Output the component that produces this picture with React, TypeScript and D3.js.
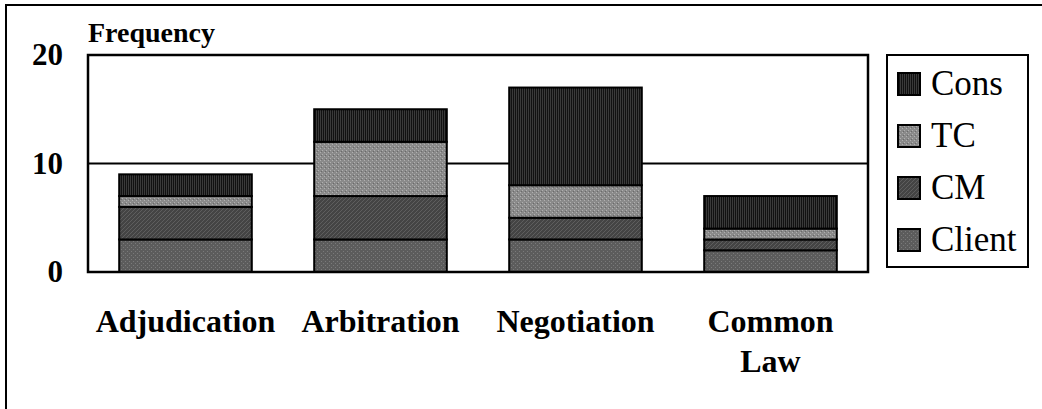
import { useEffect, useRef } from 'react';
import * as d3 from 'd3';

const categories = ['Adjudication', 'Arbitration', 'Negotiation', 'Common Law'];
const seriesNames = ['Client', 'CM', 'TC', 'Cons'];
const clientValues = [3, 3, 3, 2];
const cmValues = [3, 4, 2, 1];
const tcValues = [1, 5, 3, 1];
const consValues = [2, 3, 9, 3];
const yTicks = [0, 10, 20];
const legendOrder = ['Cons', 'TC', 'CM', 'Client'];

const W = 1042;
const H = 409;
const FONT = "'Liberation Serif', 'Times New Roman', Times, 'DejaVu Serif', serif";

export default function App() {
  const svgRef = useRef<SVGSVGElement>(null);

  useEffect(() => {
    if (!svgRef.current) return;
    const svg = d3.select(svgRef.current);
    svg.selectAll('*').remove();

    // patterns to mimic the dithered fills
    const defs = svg.append('defs');
    const pat = (id: string, bg: string, draw: (p: any) => void) => {
      const p = defs.append('pattern')
        .attr('id', id)
        .attr('patternUnits', 'userSpaceOnUse')
        .attr('width', 4)
        .attr('height', 4);
      p.append('rect').attr('width', 4).attr('height', 4).attr('fill', bg);
      draw(p);
    };
    pat('p-cons', '#111', (p) => {
      p.append('rect').attr('x', 0).attr('y', 0).attr('width', 1).attr('height', 4).attr('fill', '#3a3a3a');
      p.append('rect').attr('x', 2).attr('y', 0).attr('width', 1).attr('height', 4).attr('fill', '#3a3a3a');
    });
    pat('p-tc', '#8a8a8a', (p) => {
      p.append('rect').attr('x', 0).attr('y', 0).attr('width', 1).attr('height', 1).attr('fill', '#b0b0b0');
      p.append('rect').attr('x', 2).attr('y', 2).attr('width', 1).attr('height', 1).attr('fill', '#b0b0b0');
      p.append('rect').attr('x', 1).attr('y', 3).attr('width', 1).attr('height', 1).attr('fill', '#6a6a6a');
    });
    pat('p-cm', '#444', (p) => {
      p.append('path').attr('d', 'M0,4 L4,0').attr('stroke', '#5e5e5e').attr('stroke-width', 1);
    });
    pat('p-client', '#5c5c5c', (p) => {
      p.append('rect').attr('x', 1).attr('y', 1).attr('width', 1).attr('height', 1).attr('fill', '#7a7a7a');
      p.append('rect').attr('x', 3).attr('y', 3).attr('width', 1).attr('height', 1).attr('fill', '#7a7a7a');
    });
    const fills: Record<string, string> = {
      Client: 'url(#p-client)',
      CM: 'url(#p-cm)',
      TC: 'url(#p-tc)',
      Cons: 'url(#p-cons)',
    };

    // outer frame (runs off the right and bottom edges)
    svg.append('path')
      .attr('d', `M6,${H + 5} L6,5 L${W + 5},5`)
      .attr('fill', 'none')
      .attr('stroke', '#000')
      .attr('stroke-width', 2);

    const left = 88, right = 868, top = 55, bottom = 272;

    const x = d3.scaleBand<string>()
      .domain(categories)
      .range([left, right])
      .paddingInner(0.32)
      .paddingOuter(0.16);

    const y = d3.scaleLinear().domain([0, 20]).range([bottom, top]);

    const table = categories.map((c, i) => ({
      category: c,
      Client: clientValues[i],
      CM: cmValues[i],
      TC: tcValues[i],
      Cons: consValues[i],
    }));
    const stacked = d3.stack<any>().keys(seriesNames)(table);

    const g = svg.append('g');

    // gridline at 10
    g.append('line')
      .attr('x1', left).attr('x2', right)
      .attr('y1', y(10)).attr('y2', y(10))
      .attr('stroke', '#000').attr('stroke-width', 2);

    // bars
    g.selectAll('g.layer')
      .data(stacked)
      .join('g')
      .attr('class', 'layer')
      .attr('fill', (d: any) => fills[d.key])
      .selectAll('rect')
      .data((d: any) => d)
      .join('rect')
      .attr('x', (d: any) => x(d.data.category)!)
      .attr('width', x.bandwidth())
      .attr('y', (d: any) => y(d[1]))
      .attr('height', (d: any) => y(d[0]) - y(d[1]))
      .attr('stroke', '#000')
      .attr('stroke-width', 2);

    // plot frame
    g.append('rect')
      .attr('x', left).attr('y', top)
      .attr('width', right - left).attr('height', bottom - top)
      .attr('fill', 'none')
      .attr('stroke', '#000')
      .attr('stroke-width', 2.5);

    // y tick labels
    g.selectAll('text.ytick')
      .data(yTicks)
      .join('text')
      .attr('class', 'ytick')
      .attr('x', 63)
      .attr('y', (d) => y(d) + 10)
      .attr('text-anchor', 'end')
      .style('font-family', FONT)
      .attr('font-weight', 'bold')
      .attr('font-size', 31)
      .text((d) => d);

    // axis title
    g.append('text')
      .attr('x', 88)
      .attr('y', 42)
      .style('font-family', FONT)
      .attr('font-weight', 'bold')
      .attr('font-size', 28)
      .text('Frequency');

    // category labels
    const catLabels = g.selectAll('text.cat')
      .data(categories)
      .join('text')
      .attr('class', 'cat')
      .attr('text-anchor', 'middle')
      .style('font-family', FONT)
      .attr('font-weight', 'bold')
      .attr('font-size', 32)
      .attr('x', (d) => x(d)! + x.bandwidth() / 2)
      .attr('y', 332);
    catLabels.each(function (d) {
      const words = d === 'Common Law' ? ['Common', 'Law'] : [d];
      const t = d3.select(this);
      words.forEach((w, i) => {
        t.append('tspan')
          .attr('x', x(d)! + x.bandwidth() / 2)
          .attr('dy', i === 0 ? 0 : 40)
          .text(w);
      });
    });

    // legend
    const lg = svg.append('g');
    lg.append('rect')
      .attr('x', 887).attr('y', 55)
      .attr('width', 141).attr('height', 212)
      .attr('fill', '#fff')
      .attr('stroke', '#000')
      .attr('stroke-width', 2);
    const items = lg.selectAll('g.item')
      .data(legendOrder)
      .join('g')
      .attr('class', 'item')
      .attr('transform', (_d, i) => `translate(898, ${84 + i * 52})`);
    items.append('rect')
      .attr('x', 0).attr('y', -11)
      .attr('width', 22).attr('height', 22)
      .attr('fill', (d) => fills[d])
      .attr('stroke', '#000')
      .attr('stroke-width', 2);
    items.append('text')
      .attr('x', 33)
      .attr('y', 11)
      .style('font-family', FONT)
      .attr('font-size', 35)
      .text((d) => d);
  }, []);

  return (
    <div style={{ position: 'fixed', left: 0, top: 0, width: W, height: H, background: '#fff' }}>
      <svg ref={svgRef} width={W} height={H} style={{ display: 'block' }}></svg>
    </div>
  );
}
